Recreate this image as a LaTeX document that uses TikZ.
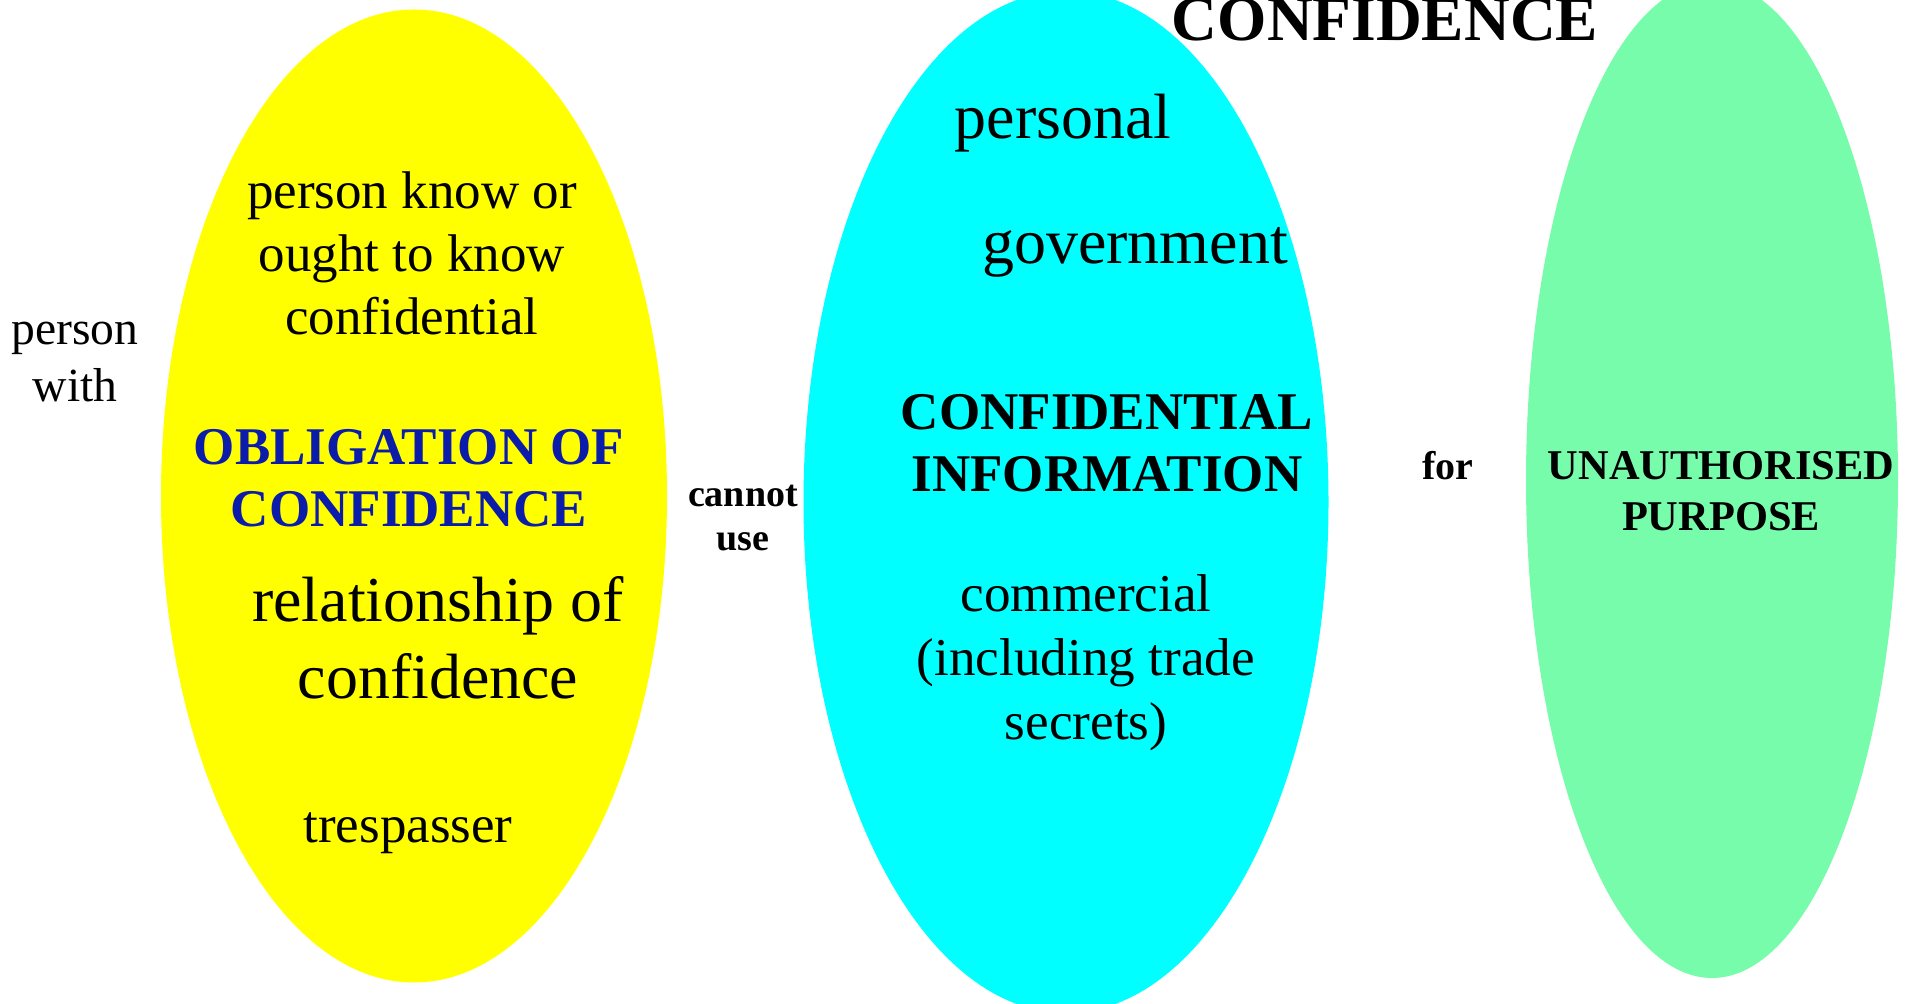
\documentclass[tikz,border=0pt]{standalone}
\usepackage{fontspec}
\setmainfont{Liberation Serif}
\usepackage{tikz}
\usetikzlibrary{shapes.geometric,positioning}
\definecolor{obligfill}{RGB}{255,255,0}
\definecolor{infofill}{RGB}{0,255,255}
\definecolor{purposefill}{RGB}{119,252,171}
\definecolor{obligblue}{RGB}{12,28,170}

\begin{document}
\begin{tikzpicture}[x=0.5pt,y=-0.5pt,
		blob/.style={ellipse, inner sep=0pt, draw=none},
		plain/.style={align=center, inner sep=0pt, font=\fontsize{26.5}{31.5}\selectfont},
		big/.style={align=center, inner sep=0pt, font=\fontsize{32}{38.5}\selectfont},
		head/.style={align=center, inner sep=0pt, font=\bfseries\fontsize{26.5}{31}\selectfont},
		link/.style={align=center, inner sep=0pt, font=\bfseries\fontsize{19}{22}\selectfont}]
		\clip (0,0) rectangle (1910,1004);
		% the three sets
		\node[blob, fill=obligfill, minimum width=253pt, minimum height=486.5pt] (oblig) at (414,496) {};
		\node[blob, fill=infofill, minimum width=262.5pt, minimum height=511pt] (info) at (1066,502) {};
		\node[blob, fill=purposefill, minimum width=186pt, minimum height=498pt] (purpose) at (1712,480) {};
		% left set
		\node[align=center, inner sep=0pt, font=\fontsize{23.8}{28.5}\selectfont] (with) at (75,362) {person\\with};
		\node[plain] (know) at (412,253) {person know or\\ought to know\\confidential};
		\node[head, text=obligblue] (obligtitle) at (409,478) {OBLIGATION OF\\CONFIDENCE};
		\node[big] (relation) at (438,638) {relationship of\\confidence};
		\node[plain] (tresp) at (408,833) {trespasser};
		% middle set
		\node[link] (cannot) at (743,518) {cannot\\use};
		\node[big] (personal) at (1063,123) {personal};
		\node[big] (govt) at (1135,252) {government};
		\node[head] (infotitle) at (1107,443) {CONFIDENTIAL\\INFORMATION};
		\node[align=center, inner sep=0pt, font=\fontsize{26.6}{32}\selectfont] (commercial) at (1086,663) {commercial\\(including trade\\secrets)};
		\node[anchor=base, inner sep=0pt, font=\bfseries\fontsize{31.7}{38}\selectfont] (conf) at (1385,41) {CONFIDENCE};
		% right set
		\node[link, font=\bfseries\fontsize{20}{24}\selectfont] (for) at (1448,466) {for};
		\node[align=center, inner sep=0pt, font=\bfseries\fontsize{21.2}{25.5}\selectfont] (purposetitle) at (1721,491) {UNAUTHORISED\\PURPOSE};
	\end{tikzpicture}
\end{document}
